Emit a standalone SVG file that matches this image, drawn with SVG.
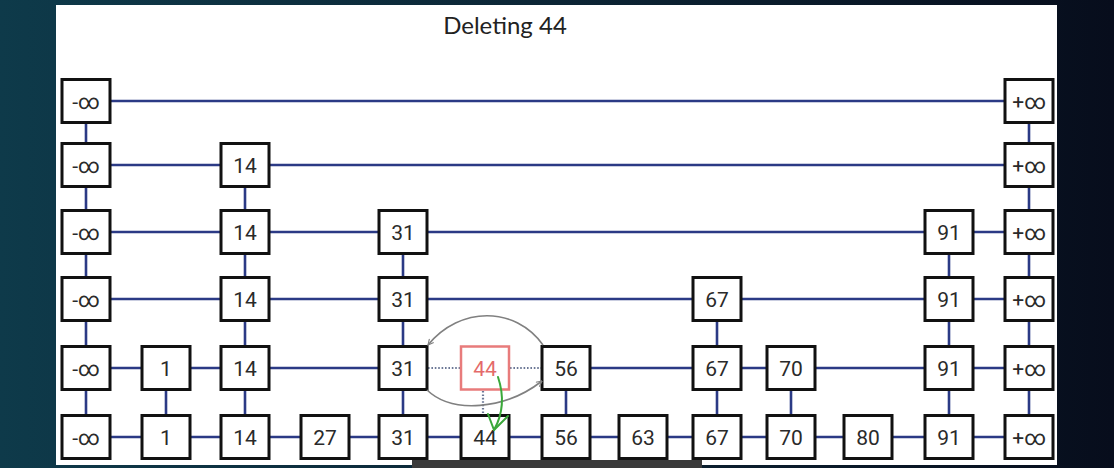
<svg xmlns="http://www.w3.org/2000/svg" width="1114" height="468" viewBox="0 0 1114 468">
<defs>
<linearGradient id="bg" x1="0" y1="0" x2="1" y2="0">
<stop offset="0" stop-color="#0e3a4a"/>
<stop offset="0.5" stop-color="#0c2535"/>
<stop offset="1" stop-color="#070d1c"/>
</linearGradient>
<marker id="ah" viewBox="0 0 10 10" refX="9" refY="5" markerWidth="7" markerHeight="7" orient="auto" markerUnits="userSpaceOnUse">
<path d="M1,1 L9,5 L1,9" fill="none" stroke="#808080" stroke-width="1.6"/>
</marker>
<style>
.box{fill:#fff;stroke:#111;stroke-width:3}
.del{fill:#fff;stroke:#e87b7b;stroke-width:2.5}
.t{font-family:Roboto,"Noto Sans",sans-serif;font-size:21px;fill:#2a2a2a;text-anchor:middle}
.tr{font-family:Roboto,"Noto Sans",sans-serif;font-size:21px;fill:#e46a6a;text-anchor:middle}
.ln{stroke:#2b3a85;stroke-width:2.6;fill:none}
.dot{stroke:#6c7896;stroke-width:2.2;stroke-dasharray:1.6 1.8;fill:none}
.arc{stroke:#808080;stroke-width:1.6;fill:none}
.grn{stroke:#3aa83a;stroke-width:2;fill:none;stroke-linecap:round;stroke-linejoin:round}
</style>
</defs>
<rect x="0" y="0" width="1114" height="468" fill="url(#bg)"/>
<rect x="56" y="5" width="1001" height="460" fill="#fff"/>
<text x="505" y="34" font-family="Lato,'Open Sans',sans-serif" font-size="24" fill="#222" text-anchor="middle">Deleting 44</text>

<g id="connectors">
<line class="ln" x1="86" y1="101" x2="1029" y2="101"/>
<line class="ln" x1="86" y1="165" x2="1029" y2="165"/>
<line class="ln" x1="86" y1="232" x2="1029" y2="232"/>
<line class="ln" x1="86" y1="299" x2="1029" y2="299"/>
<line class="ln" x1="86" y1="368" x2="403" y2="368"/>
<line class="ln" x1="566" y1="368" x2="1029" y2="368"/>
<line class="dot" x1="428" y1="368" x2="460" y2="368"/>
<line class="dot" x1="510" y1="368" x2="542" y2="368"/>
<line class="ln" x1="86" y1="437" x2="1029" y2="437"/>
<line class="ln" x1="86" y1="101" x2="86" y2="437"/>
<line class="ln" x1="1029" y1="101" x2="1029" y2="437"/>
<line class="ln" x1="166" y1="368" x2="166" y2="437"/>
<line class="ln" x1="245" y1="165" x2="245" y2="437"/>
<line class="ln" x1="403" y1="232" x2="403" y2="437"/>
<line class="dot" x1="483" y1="391" x2="483" y2="415"/>
<line class="ln" x1="566" y1="368" x2="566" y2="437"/>
<line class="ln" x1="717" y1="299" x2="717" y2="437"/>
<line class="ln" x1="791" y1="368" x2="791" y2="437"/>
<line class="ln" x1="949" y1="232" x2="949" y2="437"/>
</g>

<g id="col-neginf">
<rect class="box" x="62" y="79.5" width="48" height="43"/><text class="t" x="86" y="108.5">-∞</text>
<rect class="box" x="62" y="143.5" width="48" height="43"/><text class="t" x="86" y="172.5">-∞</text>
<rect class="box" x="62" y="210.5" width="48" height="43"/><text class="t" x="86" y="239.5">-∞</text>
<rect class="box" x="62" y="277.5" width="48" height="43"/><text class="t" x="86" y="306.5">-∞</text>
<rect class="box" x="62" y="346.5" width="48" height="43"/><text class="t" x="86" y="375.5">-∞</text>
<rect class="box" x="62" y="415.5" width="48" height="43"/><text class="t" x="86" y="444.5">-∞</text>
</g>
<g id="col-1">
<rect class="box" x="142" y="346.5" width="48" height="43"/><text class="t" x="166" y="375.5">1</text>
<rect class="box" x="142" y="415.5" width="48" height="43"/><text class="t" x="166" y="444.5">1</text>
</g>
<g id="col-14">
<rect class="box" x="221" y="143.5" width="48" height="43"/><text class="t" x="245" y="172.5">14</text>
<rect class="box" x="221" y="210.5" width="48" height="43"/><text class="t" x="245" y="239.5">14</text>
<rect class="box" x="221" y="277.5" width="48" height="43"/><text class="t" x="245" y="306.5">14</text>
<rect class="box" x="221" y="346.5" width="48" height="43"/><text class="t" x="245" y="375.5">14</text>
<rect class="box" x="221" y="415.5" width="48" height="43"/><text class="t" x="245" y="444.5">14</text>
</g>
<g id="col-27">
<rect class="box" x="301" y="415.5" width="48" height="43"/><text class="t" x="325" y="444.5">27</text>
</g>
<g id="col-31">
<rect class="box" x="379" y="210.5" width="48" height="43"/><text class="t" x="403" y="239.5">31</text>
<rect class="box" x="379" y="277.5" width="48" height="43"/><text class="t" x="403" y="306.5">31</text>
<rect class="box" x="379" y="346.5" width="48" height="43"/><text class="t" x="403" y="375.5">31</text>
<rect class="box" x="379" y="415.5" width="48" height="43"/><text class="t" x="403" y="444.5">31</text>
</g>
<g id="col-44">
<rect class="del" x="461" y="346.5" width="48" height="43"/><text class="tr" x="485" y="375.5">44</text>
<rect class="box" x="461" y="415.5" width="48" height="43"/><text class="t" x="485" y="444.5">44</text>
</g>
<g id="col-56">
<rect class="box" x="542" y="346.5" width="48" height="43"/><text class="t" x="566" y="375.5">56</text>
<rect class="box" x="542" y="415.5" width="48" height="43"/><text class="t" x="566" y="444.5">56</text>
</g>
<g id="col-63">
<rect class="box" x="619" y="415.5" width="48" height="43"/><text class="t" x="643" y="444.5">63</text>
</g>
<g id="col-67">
<rect class="box" x="693" y="277.5" width="48" height="43"/><text class="t" x="717" y="306.5">67</text>
<rect class="box" x="693" y="346.5" width="48" height="43"/><text class="t" x="717" y="375.5">67</text>
<rect class="box" x="693" y="415.5" width="48" height="43"/><text class="t" x="717" y="444.5">67</text>
</g>
<g id="col-70">
<rect class="box" x="767" y="346.5" width="48" height="43"/><text class="t" x="791" y="375.5">70</text>
<rect class="box" x="767" y="415.5" width="48" height="43"/><text class="t" x="791" y="444.5">70</text>
</g>
<g id="col-80">
<rect class="box" x="844" y="415.5" width="48" height="43"/><text class="t" x="868" y="444.5">80</text>
</g>
<g id="col-91">
<rect class="box" x="925" y="210.5" width="48" height="43"/><text class="t" x="949" y="239.5">91</text>
<rect class="box" x="925" y="277.5" width="48" height="43"/><text class="t" x="949" y="306.5">91</text>
<rect class="box" x="925" y="346.5" width="48" height="43"/><text class="t" x="949" y="375.5">91</text>
<rect class="box" x="925" y="415.5" width="48" height="43"/><text class="t" x="949" y="444.5">91</text>
</g>
<g id="col-posinf">
<rect class="box" x="1005" y="79.5" width="48" height="43"/><text class="t" x="1029" y="108.5">+∞</text>
<rect class="box" x="1005" y="143.5" width="48" height="43"/><text class="t" x="1029" y="172.5">+∞</text>
<rect class="box" x="1005" y="210.5" width="48" height="43"/><text class="t" x="1029" y="239.5">+∞</text>
<rect class="box" x="1005" y="277.5" width="48" height="43"/><text class="t" x="1029" y="306.5">+∞</text>
<rect class="box" x="1005" y="346.5" width="48" height="43"/><text class="t" x="1029" y="375.5">+∞</text>
<rect class="box" x="1005" y="415.5" width="48" height="43"/><text class="t" x="1029" y="444.5">+∞</text>
</g>

<g id="annotations">
<path class="arc" d="M543,345 C515,306 460,306 428,345" marker-end="url(#ah)"/>
<path class="arc" d="M427,390 C452,414 505,410 542,381" marker-end="url(#ah)"/>
<path class="grn" d="M498,377 C504,395 503,414 494,430"/>
<path class="grn" d="M488,414 L494,430 L508,416"/>
</g>
<rect x="412" y="460" width="290" height="8" fill="#3a3a3a"/>
</svg>
